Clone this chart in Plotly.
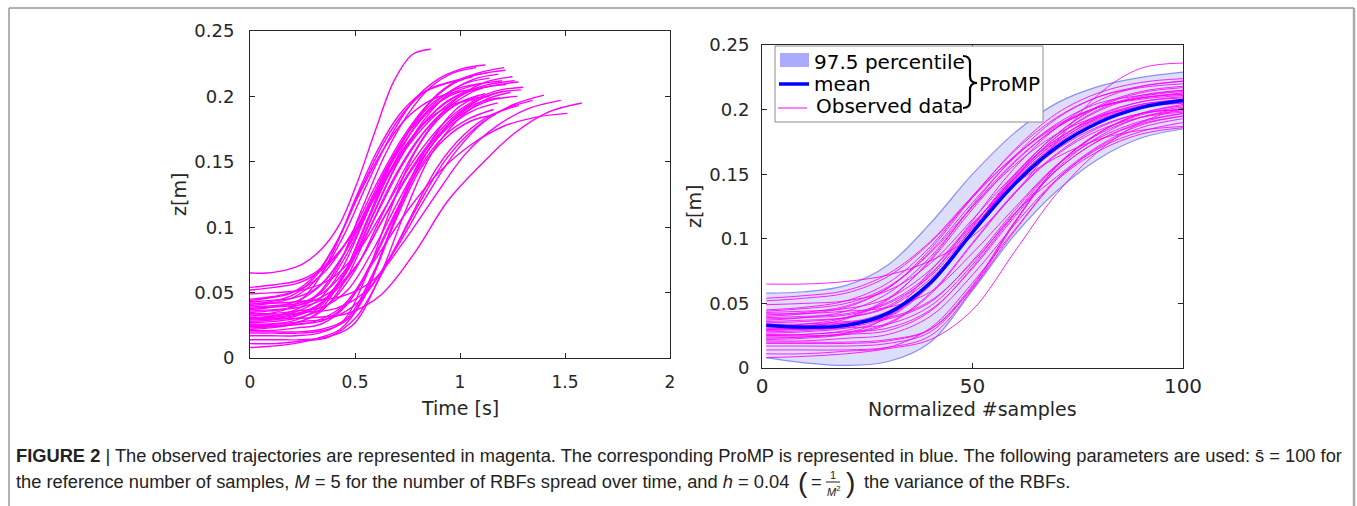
import numpy as np
import plotly.graph_objects as go

W, H = 1357, 506

# ---------------- data ----------------
NORM_X = [1, 10, 20, 30, 40, 50, 60, 70, 80, 90, 100]   # normalized #samples

# duration of each observed trajectory [s]
DURATIONS = [0.86, 1.58, 1.51, 1.12, 1.077, 1.216, 1.183, 1.14, 1.278, 1.29,
             1.40, 1.346, 1.48, 1.167, 1.273, 1.208, 1.10, 1.05, 1.15, 1.20,
             1.25, 1.12, 1.18, 1.08, 1.22, 1.02, 1.30, 1.13, 1.24, 1.16,
             1.06, 1.28, 1.10, 1.19, 1.26, 1.09, 1.14, 1.21]

# z [m] of each trajectory at NORM_X
Z01 = [0.065, 0.065, 0.067, 0.072, 0.083, 0.102, 0.135, 0.175, 0.212, 0.232, 0.236]
Z02 = [0.030, 0.030, 0.031, 0.034, 0.048, 0.080, 0.120, 0.148, 0.172, 0.188, 0.195]
Z03 = [0.025, 0.025, 0.027, 0.040, 0.075, 0.112, 0.142, 0.163, 0.177, 0.184, 0.187]
Z04 = [0.040, 0.042, 0.047, 0.062, 0.092, 0.132, 0.169, 0.197, 0.213, 0.221, 0.224]
Z05 = [0.035, 0.036, 0.039, 0.048, 0.072, 0.114, 0.155, 0.186, 0.207, 0.218, 0.222]
Z06 = [0.045, 0.047, 0.052, 0.066, 0.094, 0.133, 0.168, 0.194, 0.210, 0.217, 0.220]
Z07 = [0.030, 0.031, 0.034, 0.043, 0.067, 0.109, 0.150, 0.181, 0.202, 0.213, 0.217]
Z08 = [0.028, 0.029, 0.032, 0.041, 0.065, 0.106, 0.147, 0.179, 0.199, 0.210, 0.214]
Z09 = [0.054, 0.056, 0.060, 0.073, 0.098, 0.133, 0.164, 0.187, 0.202, 0.208, 0.211]
Z10 = [0.038, 0.039, 0.041, 0.050, 0.071, 0.108, 0.145, 0.173, 0.192, 0.202, 0.205]
Z11 = [0.033, 0.033, 0.035, 0.038, 0.051, 0.083, 0.122, 0.157, 0.181, 0.194, 0.201]
Z12 = [0.026, 0.026, 0.028, 0.031, 0.045, 0.077, 0.117, 0.153, 0.176, 0.190, 0.197]
Z13 = [0.042, 0.042, 0.044, 0.047, 0.059, 0.089, 0.124, 0.157, 0.178, 0.191, 0.197]
Z14 = [0.020, 0.020, 0.020, 0.022, 0.030, 0.062, 0.106, 0.145, 0.168, 0.181, 0.186]
Z15 = [0.036, 0.037, 0.039, 0.047, 0.069, 0.105, 0.141, 0.169, 0.187, 0.197, 0.200]
Z16 = [0.024, 0.024, 0.026, 0.029, 0.044, 0.078, 0.119, 0.157, 0.182, 0.197, 0.204]
Z17 = [0.031, 0.032, 0.035, 0.044, 0.067, 0.106, 0.146, 0.176, 0.196, 0.206, 0.210]
Z18 = [0.044, 0.046, 0.050, 0.063, 0.089, 0.125, 0.157, 0.181, 0.195, 0.202, 0.205]
Z19 = [0.029, 0.030, 0.033, 0.042, 0.065, 0.104, 0.144, 0.174, 0.194, 0.204, 0.208]
Z20 = [0.037, 0.039, 0.044, 0.058, 0.086, 0.125, 0.160, 0.186, 0.202, 0.209, 0.212]
Z21 = [0.027, 0.028, 0.031, 0.040, 0.065, 0.106, 0.147, 0.179, 0.200, 0.211, 0.215]
Z22 = [0.017, 0.017, 0.017, 0.019, 0.028, 0.063, 0.113, 0.156, 0.182, 0.196, 0.202]
Z23 = [0.034, 0.034, 0.036, 0.039, 0.052, 0.082, 0.119, 0.153, 0.176, 0.189, 0.195]
Z24 = [0.022, 0.023, 0.026, 0.034, 0.057, 0.096, 0.135, 0.165, 0.184, 0.194, 0.198]
Z25 = [0.039, 0.040, 0.042, 0.051, 0.073, 0.110, 0.148, 0.177, 0.195, 0.206, 0.209]
Z26 = [0.032, 0.034, 0.039, 0.054, 0.083, 0.123, 0.159, 0.186, 0.202, 0.209, 0.213]
Z27 = [0.049, 0.050, 0.052, 0.060, 0.081, 0.115, 0.150, 0.177, 0.194, 0.204, 0.207]
Z28 = [0.025, 0.026, 0.029, 0.039, 0.064, 0.106, 0.149, 0.181, 0.203, 0.214, 0.218]
Z29 = [0.014, 0.014, 0.014, 0.016, 0.025, 0.061, 0.112, 0.156, 0.182, 0.197, 0.203]
Z30 = [0.021, 0.021, 0.023, 0.026, 0.040, 0.072, 0.111, 0.146, 0.170, 0.183, 0.190]
Z31 = [0.041, 0.043, 0.048, 0.062, 0.090, 0.128, 0.163, 0.189, 0.205, 0.211, 0.215]
Z32 = [0.011, 0.011, 0.013, 0.016, 0.031, 0.066, 0.107, 0.146, 0.171, 0.186, 0.193]
Z33 = [0.043, 0.044, 0.046, 0.054, 0.076, 0.111, 0.147, 0.175, 0.193, 0.203, 0.206]
Z34 = [0.019, 0.019, 0.019, 0.021, 0.030, 0.064, 0.113, 0.154, 0.179, 0.194, 0.199]
Z35 = [0.052, 0.054, 0.058, 0.071, 0.097, 0.132, 0.164, 0.188, 0.202, 0.209, 0.212]
Z36 = [0.008, 0.009, 0.011, 0.015, 0.022, 0.045, 0.090, 0.135, 0.168, 0.190, 0.201]
Z37 = [0.023, 0.024, 0.027, 0.035, 0.058, 0.097, 0.136, 0.166, 0.186, 0.197, 0.200]
Z38 = [0.030, 0.032, 0.038, 0.053, 0.084, 0.126, 0.164, 0.193, 0.210, 0.218, 0.222]

TRAJECTORIES = [Z01, Z02, Z03, Z04, Z05, Z06, Z07, Z08, Z09, Z10, Z11, Z12, Z13,
                Z14, Z15, Z16, Z17, Z18, Z19, Z20, Z21, Z22, Z23, Z24, Z25, Z26,
                Z27, Z28, Z29, Z30, Z31, Z32, Z33, Z34, Z35, Z36, Z37, Z38]

# ProMP (right panel)
PROMP_MEAN  = [0.033, 0.0315, 0.033, 0.0425, 0.066, 0.105, 0.1425, 0.171, 0.190, 0.2015, 0.207]
PROMP_UPPER = [0.058, 0.059, 0.064, 0.080, 0.112, 0.150, 0.182, 0.205, 0.218, 0.225, 0.229]
PROMP_LOWER = [0.008, 0.004, 0.002, 0.005, 0.020, 0.060, 0.103, 0.137, 0.162, 0.178, 0.185]

LEFT_XTICKS = [0, 0.5, 1, 1.5, 2]
Y_TICKS = [0, 0.05, 0.1, 0.15, 0.2, 0.25]
RIGHT_XTICKS = [0, 50, 100]

# ---------------- helpers ----------------
def fx(p):
    return p / W

def fy(p):
    return 1 - p / H

MAGENTA = "#ff00ff"
AX = "#262626"
FONT = "DejaVu Sans"

fig = go.Figure()

# left panel: trajectories in time
for T, z in zip(DURATIONS, TRAJECTORIES):
    t = (np.array(NORM_X) - 1) / 99.0 * T
    fig.add_trace(go.Scatter(x=t, y=z, mode="lines", xaxis="x", yaxis="y",
                             line=dict(color=MAGENTA, width=1.4, shape="spline", smoothing=1.0),
                             hoverinfo="skip", showlegend=False))

# right panel: band
fig.add_trace(go.Scatter(x=NORM_X, y=PROMP_LOWER, mode="lines", xaxis="x2", yaxis="y2",
                         line=dict(color="#8c90f2", width=1.2, shape="spline"),
                         hoverinfo="skip", showlegend=False))
fig.add_trace(go.Scatter(x=NORM_X, y=PROMP_UPPER, mode="lines", xaxis="x2", yaxis="y2",
                         fill="tonexty", fillcolor="#dcdefa",
                         line=dict(color="#8c90f2", width=1.2, shape="spline"),
                         hoverinfo="skip", showlegend=False))
for z in TRAJECTORIES:
    fig.add_trace(go.Scatter(x=NORM_X, y=z, mode="lines", xaxis="x2", yaxis="y2",
                             line=dict(color=MAGENTA, width=1.0, shape="spline", smoothing=1.0),
                             opacity=0.85, hoverinfo="skip", showlegend=False))
fig.add_trace(go.Scatter(x=NORM_X, y=PROMP_MEAN, mode="lines", xaxis="x2", yaxis="y2",
                         line=dict(color="#0000ff", width=3.5, shape="spline"),
                         hoverinfo="skip", showlegend=False))

axis_common = dict(showgrid=False, zeroline=False, showline=True, mirror="ticks",
                   ticks="inside", ticklen=5, tickcolor=AX, linecolor=AX, linewidth=1,
                   automargin=False)

fig.update_layout(
    width=W, height=H, margin=dict(l=0, r=0, t=0, b=0, pad=0, autoexpand=False),
    paper_bgcolor="white", plot_bgcolor="white", showlegend=False,
    xaxis=dict(domain=[fx(250), fx(670)], range=[0, 2], tickvals=LEFT_XTICKS,
               tickfont=dict(family=FONT, size=17, color=AX), ticklabelstandoff=9,
               anchor="y", **axis_common),
    yaxis=dict(domain=[fy(358), fy(31)], range=[0, 0.25], tickvals=Y_TICKS,
               tickfont=dict(family=FONT, size=18, color=AX), ticklabelstandoff=11,
               anchor="x", **axis_common),
    xaxis2=dict(domain=[fx(762), fx(1183)], range=[0, 100], tickvals=RIGHT_XTICKS,
                tickfont=dict(family=FONT, size=20, color=AX), ticklabelstandoff=0,
                anchor="y2", **axis_common),
    yaxis2=dict(domain=[fy(368), fy(45)], range=[0, 0.25], tickvals=Y_TICKS,
                tickfont=dict(family=FONT, size=18, color=AX), ticklabelstandoff=8,
                anchor="x2", **axis_common),
)

ann = []
def text(x, y, s, size, color=AX, anchor="center", angle=0, family=FONT, yanchor="middle"):
    ann.append(dict(x=fx(x), y=fy(y), xref="paper", yref="paper", text=s, showarrow=False,
                    xanchor=anchor, yanchor=yanchor, textangle=angle,
                    font=dict(family=family, size=size, color=color)))

# axis titles
text(460, 408, "Time [s]", 19)
text(179, 195, "z[m]", 19, angle=-90)
text(972, 409, "Normalized #samples", 19)
text(694, 207, "z[m]", 19, angle=-90)

shapes = []
# legend box
shapes.append(dict(type="rect", xref="paper", yref="paper", x0=fx(775), x1=fx(1043),
                   y0=fy(122), y1=fy(46), line=dict(color="#8c8c8c", width=1), fillcolor="white"))
shapes.append(dict(type="rect", xref="paper", yref="paper", x0=fx(780), x1=fx(809),
                   y0=fy(67), y1=fy(53), line=dict(width=0), fillcolor="#aaaaff"))
shapes.append(dict(type="line", xref="paper", yref="paper", x0=fx(779), x1=fx(809),
                   y0=fy(84), y1=fy(84), line=dict(color="#0000ff", width=3.5)))
shapes.append(dict(type="line", xref="paper", yref="paper", x0=fx(778), x1=fx(807),
                   y0=fy(108), y1=fy(108), line=dict(color=MAGENTA, width=1)))
text(812, 62, "97.5 percentile", 20, color="black", anchor="left")
text(812, 84, "mean", 20, color="black", anchor="left")
text(814, 106, "Observed data", 20, color="black", anchor="left")

# brace
pts = [(963, 56), (970, 56), (970, 63), (970, 76), (970, 83), (977, 83),
       (970, 83), (970, 90), (970, 101), (970, 108), (963, 108)]
P = [(fx(a), fy(b)) for a, b in pts]
path = (f"M {P[0][0]},{P[0][1]} Q {P[1][0]},{P[1][1]} {P[2][0]},{P[2][1]} "
        f"L {P[3][0]},{P[3][1]} Q {P[4][0]},{P[4][1]} {P[5][0]},{P[5][1]} "
        f"Q {P[6][0]},{P[6][1]} {P[7][0]},{P[7][1]} L {P[8][0]},{P[8][1]} "
        f"Q {P[9][0]},{P[9][1]} {P[10][0]},{P[10][1]}")
shapes.append(dict(type="path", xref="paper", yref="paper", path=path,
                   line=dict(color="black", width=2.2)))
text(977, 84, "ProMP", 20, color="black", anchor="left")

# frame
shapes.append(dict(type="line", xref="paper", yref="paper", x0=fx(9), x1=fx(1354),
                   y0=fy(8), y1=fy(8), line=dict(color="#999999", width=1.5)))
shapes.append(dict(type="line", xref="paper", yref="paper", x0=fx(9), x1=fx(9),
                   y0=fy(8), y1=fy(506), line=dict(color="#999999", width=1.5)))
shapes.append(dict(type="line", xref="paper", yref="paper", x0=fx(1354), x1=fx(1354),
                   y0=fy(8), y1=fy(506), line=dict(color="#aaaaaa", width=2.5)))

# caption
CAP = "Liberation Sans"
CC = "#222222"
CS = 18.3
text(14, 455, "<b>FIGURE 2</b> | The observed trajectories are represented in magenta. "
     "The corresponding ProMP is represented in blue. The following parameters are used: "
     "s\u0304 = 100 for", CS, color=CC, anchor="left", family=CAP)
text(14, 481, "the reference number of samples, <i>M</i> = 5 for the number of RBFs spread over time, "
     "and <i>h</i> = 0.04", CS, color=CC, anchor="left", family=CAP)
text(803, 482, "(", 28, color=CC, family=CAP)
text(816, 481, "=", CS, color=CC, family=CAP)
text(833, 474.5, "1", 11, color=CC, family=CAP)
shapes.append(dict(type="line", xref="paper", yref="paper", x0=fx(826), x1=fx(840),
                   y0=fy(482), y1=fy(482), line=dict(color=CC, width=1)))
text(833, 490.5, "<i>M</i><sup>2</sup>", 11, color=CC, family=CAP)
text(850, 482, ")", 28, color=CC, family=CAP)
text(862, 481, "the variance of the RBFs.", CS, color=CC, anchor="left", family=CAP)

fig.update_layout(annotations=ann, shapes=shapes)
fig.write_html("out.html", config={"displayModeBar": False},
               post_script="document.body.style.margin='0';document.body.style.overflow='hidden';")
